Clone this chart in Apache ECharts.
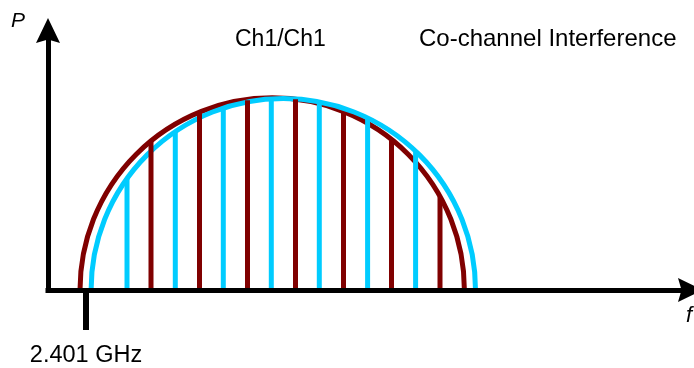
<!DOCTYPE html>
<html>
<head>
<meta charset="utf-8">
<script src="https://cdn.jsdelivr.net/npm/echarts@6/dist/echarts.min.js"></script>
<style>
  html, body { margin: 0; padding: 0; background: #fff; }
  #chart { width: 694px; height: 368px; }
</style>
</head>
<body>
<div id="chart"></div>
<script>
// ---- data (x in arbitrary frequency units, y in power units) ----
const xMax = 642.5;
const yMax = 260;
const freqTickValues = [38];
const freqTickLabels = ['2.401 GHz'];

// spectrum envelopes (half-ellipse): centre, half width, peak height
const arcNames = ['Ch1', 'Ch1 interferer'];
const arcCenter = [224.2, 235.3];
const arcHalfWidth = [192.2, 192.2];
const arcHeight = [192.5, 191.8];

// vertical spectral lines
const redLineX = [103, 151.5, 199.5, 247.5, 295.5, 343.5, 392];
const redLineH = [149, 178, 190, 191, 178, 150, 93];
const cyanLineX = [79, 127.3, 175.3, 223.3, 271.3, 319.6, 367.6];
const cyanLineH = [112, 159, 182, 191.5, 188.5, 172, 139];

const titleLeft = 'Ch1/Ch1';
const titleRight = 'Co-channel Interference';
const yName = 'P';
const xName = 'f';

// ---- styling ----
const RED = '#800000';
const CYAN = '#00CCFF';
const FONT = '"Liberation Sans", Arial, sans-serif';
const arrowPath = 'path://M0,0 L12,25 L0,21.5 L-12,25 Z';

const chart = echarts.init(document.getElementById('chart'), null, { renderer: 'canvas' });

function arcSeries(i, color) {
  return {
    type: 'custom',
    name: arcNames[i],
    z: 2,
    silent: true,
    data: [[arcCenter[i], arcHalfWidth[i], arcHeight[i]]],
    encode: { x: 0, y: 2 },
    renderItem: function (params, api) {
      const cx = api.value(0), rx = api.value(1), ry = api.value(2);
      const L = api.coord([cx - rx, 0]);
      const R = api.coord([cx + rx, 0]);
      const T = api.coord([cx, ry]);
      const prx = (R[0] - L[0]) / 2;
      const pry = L[1] - T[1];
      return {
        type: 'path',
        shape: { pathData: 'M' + L[0] + ' ' + L[1] + ' A ' + prx + ' ' + pry + ' 0 0 1 ' + R[0] + ' ' + R[1] },
        style: { fill: 'none', stroke: color, lineWidth: 5 }
      };
    }
  };
}

function lineSeries(xs, hs, color, name) {
  return {
    type: 'custom',
    name: name,
    z: 3,
    silent: true,
    data: xs.map((x, i) => [x, hs[i]]),
    encode: { x: 0, y: 1 },
    renderItem: function (params, api) {
      const b = api.coord([api.value(0), 0]);
      const t = api.coord([api.value(0), api.value(1)]);
      return {
        type: 'line',
        shape: { x1: b[0], y1: b[1], x2: t[0], y2: t[1] },
        style: { stroke: color, lineWidth: 5, lineCap: 'butt' }
      };
    }
  };
}

chart.setOption({
  animation: false,
  backgroundColor: '#ffffff',
  grid: { left: 48, right: 3.5, top: 30.5, bottom: 77.5, containLabel: false },
  xAxis: {
    type: 'value',
    min: 0, max: xMax,
    z: 10,
    splitLine: { show: false },
    axisLine: {
      show: true, onZero: true,
      symbol: ['none', arrowPath], symbolSize: [24, 25],
      lineStyle: { color: '#000', width: 5, cap: 'square' }
    },
    axisTick: {
      show: true, inside: false, length: 40,
      customValues: freqTickValues,
      lineStyle: { color: '#000', width: 6 }
    },
    axisLabel: {
      show: true, margin: 54,
      customValues: freqTickValues,
      formatter: function (v) { return freqTickLabels[freqTickValues.indexOf(v)] || ''; },
      color: '#000', fontSize: 23.5, fontFamily: FONT
    }
  },
  yAxis: {
    type: 'value',
    min: 0, max: yMax, interval: 260,
    z: 10,
    splitLine: { show: false },
    axisLine: {
      show: true,
      symbol: ['none', arrowPath], symbolSize: [25, 25],
      lineStyle: { color: '#000', width: 5, cap: 'square' }
    },
    axisTick: { show: false },
    axisLabel: { show: false }
  },
  graphic: [
    { type: 'text', x: 235, y: 39.5, style: { text: titleLeft, fill: '#000', font: '23px ' + FONT, textAlign: 'left', textVerticalAlign: 'middle' } },
    { type: 'text', x: 419, y: 39.5, style: { text: titleRight, fill: '#000', font: '24px ' + FONT, textAlign: 'left', textVerticalAlign: 'middle' } },
    { type: 'text', x: 11, y: 21, style: { text: yName, fill: '#000', font: 'italic 21px ' + FONT, textAlign: 'left', textVerticalAlign: 'middle' } },
    { type: 'text', x: 686, y: 316, style: { text: xName, fill: '#000', font: 'italic 22px ' + FONT, textAlign: 'left', textVerticalAlign: 'middle' } }
  ],
  series: [
    arcSeries(0, RED),
    arcSeries(1, CYAN),
    lineSeries(redLineX, redLineH, RED, 'Ch1 lines'),
    lineSeries(cyanLineX, cyanLineH, CYAN, 'Interferer lines')
  ]
});
</script>
</body>
</html>
